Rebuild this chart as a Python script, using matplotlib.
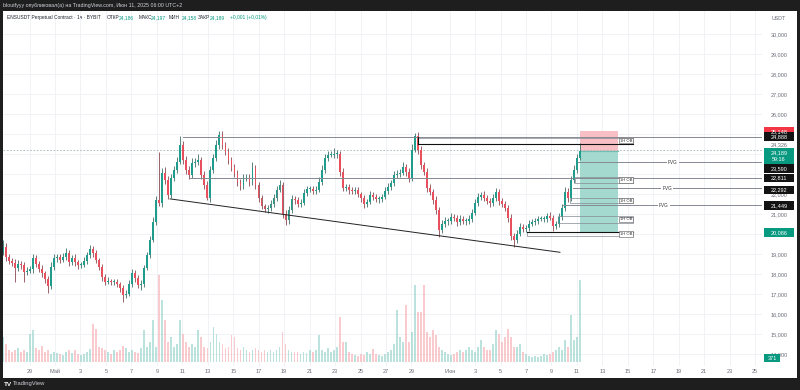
import matplotlib
matplotlib.use("Agg")
import matplotlib.pyplot as plt
import matplotlib.transforms as mtrans
from matplotlib.patches import Rectangle
import numpy as np
import pandas as pd

plt.rcParams['font.family'] = ['Liberation Sans', 'DejaVu Sans']

# ---------------- data ----------------
first_open = 19.10
closes = [
    19.37, 18.87, 18.67, 18.57, 18.32, 18.52, 18.47, 18.12, 18.17, 18.27,
    18.82, 18.52, 18.27, 18.07, 17.77, 17.42, 18.37, 18.82, 18.87, 18.72,
    18.87, 19.07, 18.62, 18.82, 18.62, 18.47, 18.47, 18.67, 18.97, 19.27,
    19.07, 18.72, 18.37, 17.87, 17.62, 17.67, 17.62, 17.62, 17.52, 17.32,
    16.97, 17.02, 17.52, 18.07, 17.82, 17.47, 17.52, 18.32, 18.97, 19.72,
    20.62, 21.72, 21.57, 23.07, 22.72, 21.97, 22.82, 23.22, 23.62, 24.47,
    23.72, 23.22, 22.97, 23.57, 23.62, 23.72, 22.97, 22.47, 21.82, 23.22,
    23.82, 24.47, 24.97, 24.47, 24.12, 23.72, 23.37, 23.02, 22.62, 22.42,
    22.82, 22.82, 22.62, 23.32, 22.47, 21.82, 21.42, 21.27, 21.32, 21.52,
    21.82, 22.22, 22.47, 21.02, 20.72, 21.22, 21.77, 21.72, 21.52, 21.57,
    22.07, 22.27, 22.27, 22.17, 22.22, 22.62, 23.22, 23.82, 23.97, 23.97,
    24.02, 24.02, 23.12, 22.32, 22.37, 22.22, 22.17, 22.22, 22.02, 21.82,
    21.52, 21.62, 21.97, 21.87, 21.77, 21.77, 21.87, 22.17, 22.37, 22.57,
    22.97, 23.02, 23.07, 23.37, 23.12, 22.82, 24.22, 24.92, 24.22, 23.47,
    23.12, 22.32, 22.12, 21.72, 21.22, 20.22, 20.52, 20.67, 20.67, 20.87,
    20.82, 20.62, 20.77, 20.67, 20.67, 20.77, 21.07, 21.57, 21.87, 21.97,
    21.82, 21.67, 21.57, 21.82, 22.12, 21.67, 21.52, 21.32, 20.82, 19.92,
    19.72, 20.02, 20.37, 20.27, 20.32, 20.52, 20.62, 20.67, 20.77, 20.77,
    20.77, 20.92, 20.82, 20.42, 20.52, 20.87, 21.32, 22.12, 21.82, 22.72,
    23.22, 23.82, 24.19,
]
upper_wick = [
    0.35, 0.18, 0.12, 0.15, 0.2, 0.22, 0.14, 0.16, 0.2, 0.12,
    0.18, 0.15, 0.12, 0.2, 0.1, 0.15, 0.22, 0.18, 0.14, 0.12,
    0.2, 0.25, 0.15, 0.12, 0.18, 0.1, 0.14, 0.2, 0.16, 0.22,
    0.15, 0.12, 0.1, 0.14, 0.12, 0.18, 0.1, 0.12, 0.15, 0.1,
    0.12, 0.2, 0.22, 0.18, 0.15, 0.12, 0.2, 0.14, 0.16, 0.18,
    0.22, 0.2, 2.41, 0.25, 0.3, 0.2, 0.22, 0.18, 0.25, 0.42,
    0.2, 0.18, 0.22, 0.25, 0.2, 0.3, 0.15, 0.18, 0.2, 0.22,
    0.2, 0.25, 0.2, 0.18, 0.15, 0.2, 0.16, 0.14, 0.2, 0.15,
    0.22, 0.18, 0.2, 0.3, 0.15, 0.12, 0.14, 0.1, 0.12, 0.18,
    0.2, 0.22, 0.25, 0.15, 0.18, 0.2, 0.22, 0.15, 0.12, 0.18,
    0.2, 0.15, 0.14, 0.16, 0.2, 0.22, 0.25, 0.2, 0.18, 0.22,
    0.3, 0.2, 0.15, 0.18, 0.14, 0.12, 0.15, 0.16, 0.12, 0.1,
    0.12, 0.14, 0.2, 0.15, 0.12, 0.14, 0.16, 0.18, 0.2, 0.15,
    0.22, 0.18, 0.2, 0.25, 0.15, 0.2, 0.3, 0.15, 0.2, 0.18,
    0.15, 0.2, 0.18, 0.15, 0.2, 0.15, 0.2, 0.18, 0.15, 0.2,
    0.15, 0.14, 0.2, 0.16, 0.15, 0.18, 0.22, 0.2, 0.18, 0.15,
    0.2, 0.15, 0.14, 0.18, 0.2, 0.15, 0.12, 0.14, 0.15, 0.18,
    0.15, 0.2, 0.18, 0.15, 0.14, 0.2, 0.15, 0.12, 0.14, 0.15,
    0.12, 0.15, 0.18, 0.14, 0.15, 0.2, 0.22, 0.25, 0.2, 0.22,
    0.25, 0.2, 0.38,
]
lower_wick = [
    0.15, 0.2, 0.18, 0.15, 0.7, 0.14, 0.2, 0.5, 0.15, 0.12,
    0.2, 0.18, 0.15, 0.22, 0.2, 0.35, 0.15, 0.18, 0.2, 0.15,
    0.12, 0.18, 0.2, 0.15, 0.2, 0.18, 0.15, 0.12, 0.14, 0.16,
    0.2, 0.15, 0.18, 0.2, 0.15, 0.12, 0.14, 0.18, 0.15, 0.2,
    0.35, 0.15, 0.12, 0.18, 0.2, 0.15, 0.25, 0.14, 0.12, 0.15,
    0.12, 0.15, 0.14, 0.2, 0.18, 0.2, 0.15, 0.18, 0.14, 0.12,
    0.2, 0.18, 0.22, 0.15, 0.2, 0.18, 0.2, 0.22, 0.1, 0.2,
    0.15, 0.14, 0.18, 0.2, 0.15, 0.18, 0.2, 0.15, 0.22, 0.2,
    0.15, 0.18, 0.2, 0.14, 0.2, 0.22, 0.18, 0.15, 0.2, 0.15,
    0.14, 0.15, 0.12, 0.2, 0.25, 0.18, 0.15, 0.2, 0.18, 0.15,
    0.12, 0.15, 0.14, 0.18, 0.15, 0.12, 0.14, 0.15, 0.18, 0.12,
    0.15, 0.2, 0.22, 0.18, 0.15, 0.2, 0.14, 0.18, 0.15, 0.2,
    0.2, 0.15, 0.12, 0.18, 0.15, 0.2, 0.14, 0.12, 0.15, 0.18,
    0.14, 0.15, 0.18, 0.12, 0.2, 0.22, 0.15, 0.12, 0.18, 0.2,
    0.15, 0.2, 0.18, 0.2, 0.22, 0.35, 0.15, 0.18, 0.2, 0.14,
    0.18, 0.2, 0.15, 0.18, 0.2, 0.14, 0.15, 0.12, 0.14, 0.15,
    0.18, 0.15, 0.2, 0.14, 0.15, 0.2, 0.18, 0.15, 0.2, 0.22,
    0.35, 0.15, 0.12, 0.18, 0.15, 0.14, 0.12, 0.15, 0.14, 0.12,
    0.15, 0.14, 0.12, 0.25, 0.18, 0.15, 0.14, 0.18, 0.2, 0.15,
    0.14, 0.15, 0.12,
]
volumes = [
    2500, 1800, 1200, 1000, 1200, 1400, 1000, 1200, 1000, 2800,
    3200, 1400, 1200, 1600, 1000, 1200, 800, 1000, 900, 800,
    700, 1000, 1200, 900, 1200, 800, 700, 800, 1000, 1300,
    3800, 3300, 1500, 1400, 1200, 1000, 800, 1200, 1000, 1200,
    1600, 1400, 1000, 1200, 1000, 900, 1400, 3200, 1500, 2000,
    4200, 1500, 8700, 6200, 4200, 2000, 2500, 1500, 1800, 4200,
    2800, 2000, 1500, 1800, 1500, 3200, 2500, 1500, 1400, 2000,
    3500, 2800, 2000, 1800, 1400, 1500, 2700, 2500, 1400, 1200,
    1500, 1200, 1000, 1200, 1400, 1200, 1000, 1200, 1000, 1200,
    1000, 1200, 1500, 3000, 1800, 1200, 1000, 1000, 1000, 800,
    1000, 900, 1200, 1000, 1200, 2700, 1200, 1000, 1400, 1000,
    1200, 1500, 4500, 2000, 2000, 1000, 800, 700, 600, 800,
    700, 1000, 800, 1300, 800, 700, 600, 800, 1000, 1200,
    1800, 5200, 2500, 2000, 5700, 2000, 3000, 7700, 5000, 5000,
    7700, 3000, 2500, 3200, 2700, 1500, 1200, 1000, 800, 700,
    800, 1000, 1200, 1000, 1200, 1500, 1200, 1000, 1500, 2200,
    1500, 1200, 1200, 1800, 3200, 2800, 2000, 2500, 3300, 2500,
    1500, 1500, 1800, 1000, 800, 600, 500, 600, 500, 600,
    800, 700, 800, 1000, 1200, 1500, 1200, 2200, 1500, 4700,
    2200, 2500, 8200,
]
last_time = "2025-06-11 06:00"
bar_minutes = 340
current_volume = 371

# price tick values and date ticks
price_ticks = list(range(14, 31))
date_ticks = ["2025-04-29"] + [f"2025-05-{d:02d}" for d in range(1, 30, 2)] + \
             ["2025-06-01"] + [f"2025-06-{d:02d}" for d in range(3, 26, 2)]
date_labels = ["29", "Май"] + [str(d) for d in range(3, 30, 2)] + ["Июн"] + [str(d) for d in range(3, 26, 2)]

# drawings
ray_levels = [24.888, 22.811]
ray_starts = ["2025-05-11 01:00", "2025-05-11 14:00"]
fvg_levels = [23.590, 22.292, 21.449]
fvg_starts = ["2025-06-11 02:00", "2025-06-10 17:00", "2025-06-09 22:00"]
fvg_label_at = ["2025-06-18 13:00", "2025-06-18 02:00", "2025-06-17 20:00"]
ob_starts = ["2025-05-29 12:00", "2025-06-10 20:00", "2025-06-10 10:00", "2025-06-09 12:00", "2025-06-07 02:00"]
ob_tops = [24.84, 22.85, 21.83, 20.92, 20.13]
ob_bottoms = [24.54, 22.55, 21.55, 20.57, 19.91]
ob_end = "2025-06-15 10:00"
trend_times = ["2025-05-10 01:00", "2025-06-09 16:00"]
trend_prices = [21.77, 19.10]
pos_start, pos_end = "2025-06-11 06:00", "2025-06-14 05:00"
entry_price, stop_price, target_price = 24.189, 25.148, 20.086

# ---------------- layout helpers ----------------
W, H = 800, 390
fig = plt.figure(figsize=(W / 100, H / 100), dpi=100)
fig.patch.set_facecolor('#1e1e1e')

def fx(x):
    return x / W

def fy(y):
    return 1 - y / H

T0 = pd.Timestamp("2025-05-01")
PX_PER_DAY = 12.73
X_MAY1 = 55.0

def day(ts):
    return (pd.Timestamp(ts) - T0) / pd.Timedelta(days=1)

def dpx(d):
    return X_MAY1 + d * PX_PER_DAY

fig.add_artist(Rectangle((fx(3), fy(378)), (797 - 3) / W, (378 - 11) / H,
                         transform=fig.transFigure, facecolor='white',
                         edgecolor='none', zorder=-5))

rect = [fx(3), fy(366), 759 / W, 355 / H]
axv = fig.add_axes(rect, zorder=0)
ax = fig.add_axes(rect, zorder=1)
for a in (axv, ax):
    a.set_facecolor('none')
    for s in a.spines.values():
        s.set_visible(False)
    a.set_xticks([])
    a.set_yticks([])

xlim = ((3 - X_MAY1) / PX_PER_DAY, (762 - X_MAY1) / PX_PER_DAY)
ax.set_xlim(xlim)
axv.set_xlim(xlim)
ax.set_ylim(13.415, 31.165)
axv.set_ylim(-400, 35100)

# ---------------- candles ----------------
times = pd.date_range(end=last_time, periods=len(closes), freq=f"{bar_minutes}min")
days = np.asarray((times - T0) / pd.Timedelta(days=1), dtype=float)
step = bar_minutes / 1440
c = np.array(closes)
o = np.array([first_open] + closes[:-1])
hi = np.maximum(o, c) + np.array(upper_wick)
lo = np.minimum(o, c) - np.array(lower_wick)
up = c >= o
UP, DN = '#1f9c8c', '#e8505d'
col = np.where(up, UP, DN)
wcol = np.where(up, '#3f6f69', '#8a4950')
vcol = np.where(up, '#8fd0c7', '#f5a9ae')

# grid
for d in date_ticks:
    axv.axvline(day(d), color='#eef0f5', lw=0.6, zorder=0)
for p in price_ticks:
    axv.plot(xlim, [p, p], color='#eef0f5', lw=0.6, zorder=0, transform=ax.transData)

axv.bar(days, volumes, width=step * 0.6, color=vcol, alpha=0.6, zorder=1, linewidth=0)

ax.vlines(days, lo, hi, colors=wcol, lw=0.6, zorder=3)
ax.bar(days, np.maximum(np.abs(c - o), 0.03), bottom=np.minimum(o, c),
       width=step * 0.62, color=col, linewidth=0, zorder=4)

# ---------------- drawings ----------------
GREY = '#868993'
# position tool
ps, pe = day(pos_start), day(pos_end)
ax.add_patch(Rectangle((ps, entry_price), pe - ps, stop_price - entry_price,
                       facecolor='#f8bfc4', edgecolor='none', zorder=2))
ax.add_patch(Rectangle((ps, target_price), pe - ps, entry_price - target_price,
                       facecolor='#a3d9cf', edgecolor='none', zorder=2))
ax.plot([ps, pe], [entry_price, entry_price], color='#6fbfb2', lw=0.8, zorder=2)

# current price dotted line
ax.plot(xlim, [closes[-1], closes[-1]], color='#9fb9b5', lw=0.6,
        linestyle=(0, (2, 2)), zorder=2)

# horizontal rays
for lvl, st in zip(ray_levels, ray_starts):
    ax.plot([day(st), xlim[1]], [lvl, lvl], color=GREY, lw=0.7, zorder=5)

for lvl, st, la in zip(fvg_levels, fvg_starts, fvg_label_at):
    ax.plot([day(st), xlim[1]], [lvl, lvl], color=GREY, lw=0.7, zorder=5)
    ax.text(day(la), lvl, "FVG", fontsize=3.4, color='#333333', ha='center', va='center',
            zorder=6, bbox=dict(boxstyle='square,pad=0.25', fc='white', ec='none'))

# order blocks
oe = day(ob_end)
for i, (st, tp, bt) in enumerate(zip(ob_starts, ob_tops, ob_bottoms)):
    s = day(st)
    ax.add_patch(Rectangle((s, bt), oe - s, tp - bt, facecolor='none',
                           edgecolor=GREY, lw=0.5, zorder=5))
    if i == 0:
        ax.plot([s, oe], [bt, bt], color='#111111', lw=0.8, zorder=5)
        ax.plot([s, s], [bt, tp], color='#111111', lw=0.8, zorder=5)
    if i == 4:
        ax.plot([s, oe], [tp, tp], color='#111111', lw=0.8, zorder=5)
    ax.text(oe - 0.05, (tp + bt) / 2, "1H OB", fontsize=3.0, color='#333333',
            ha='right', va='center', zorder=6,
            bbox=dict(boxstyle='square,pad=0.2', fc='white', ec='#555555', lw=0.4))

# trend line
ax.plot([day(t) for t in trend_times], trend_prices, color='#222222', lw=0.7, zorder=5)

# ---------------- price axis ----------------
btrans = mtrans.blended_transform_factory(fig.transFigure, ax.transData)
TXT = '#6a6d78'
label_centers = [stop_price, 24.888, 24.45, 24.10, 23.78, 23.30, 22.811, 22.22, 21.449, target_price]
for p in price_ticks:
    if min(abs(p - lc) for lc in label_centers) < 0.2:
        continue  # fully covered by a coloured label, as in the reference
    fig.text(fx(779), p, f"{p},000", transform=btrans, fontsize=4.0, color=TXT,
             ha='center', va='center', zorder=5)
fig.text(fx(779), fy(18), "USDT", fontsize=3.8, color=TXT, ha='center', va='center', zorder=5)

def axis_label(price, text, bg, fg='white', center=None, h=0.42):
    yc = price if center is None else center
    fig.add_artist(Rectangle((fx(764), yc - h / 2), 30 / W, h, transform=btrans,
                             facecolor=bg, edgecolor='none', zorder=6))
    fig.text(fx(779), yc, text, transform=btrans, fontsize=4.0, color=fg,
             ha='center', va='center', zorder=7)

axis_label(24.326, "24,326", 'white', TXT, center=24.47, h=0.3)
axis_label(stop_price, "25,148", '#f23645')
axis_label(24.888, "24,888", '#131313')
# current price + countdown
fig.add_artist(Rectangle((fx(764), 23.52), 30 / W, 0.80, transform=btrans,
                         facecolor='#089981', edgecolor='none', zorder=6))
fig.text(fx(779), 24.10, "24,189", transform=btrans, fontsize=4.0,
         color='white', ha='center', va='center', zorder=7)
fig.text(fx(779), 23.76, "59:16", transform=btrans, fontsize=4.0,
         color='white', ha='center', va='center', zorder=7)
axis_label(23.590, "23,590", '#131313', center=23.30)
axis_label(22.811, "22,811", '#131313')
axis_label(22.292, "22,292", '#131313', center=22.22)
axis_label(21.449, "21,449", '#131313')
axis_label(target_price, "20,086", '#089981')

# volume label
vtrans = mtrans.blended_transform_factory(fig.transFigure, axv.transData)
fig.add_artist(Rectangle((fx(764), current_volume - 420), 16 / W, 840, transform=vtrans,
                         facecolor='#089981', edgecolor='none', zorder=6))
fig.text(fx(772), current_volume, str(current_volume), transform=vtrans, fontsize=4.0,
         color='white', ha='center', va='center', zorder=7)

# ---------------- time axis ----------------
for d, lab in zip(date_ticks, date_labels):
    fig.text(fx(dpx(day(d))), fy(371.5), lab, fontsize=4.0, color=TXT,
             ha='center', va='center', zorder=5)

# ---------------- headers ----------------
fig.text(fx(3), fy(5.3), "bloutfyyy опубликовал(а) на TradingView.com, Июн 11, 2025 06:00 UTC+2",
         fontsize=3.8, color='#d1d4dc', ha='left', va='center')
HC = '#1f2430'
TEAL = '#089981'
hdr = [(7, "ENSUSDT Perpetual Contract · 1ч · BYBIT", HC),
       (107, "ОТКР", HC), (119, "24,186", TEAL),
       (139, "МАКС", HC), (151, "24,197", TEAL),
       (169, "МИН", HC), (182, "24,158", TEAL),
       (198, "ЗАКР", HC), (210, "24,189", TEAL),
       (230, "+0,001 (+0,01%)", TEAL)]
for xp, t, cc in hdr:
    fig.text(fx(xp), fy(17.3), t, fontsize=3.5, color=cc, ha='left', va='center', zorder=5)

fig.text(fx(4), fy(384), "TV", fontsize=4.6, color='white', weight='bold', ha='left', va='center')
fig.text(fx(13), fy(384), "TradingView", fontsize=4.2, color='#d1d4dc', ha='left', va='center')

fig.savefig("out.png", dpi=100, facecolor=fig.get_facecolor())
